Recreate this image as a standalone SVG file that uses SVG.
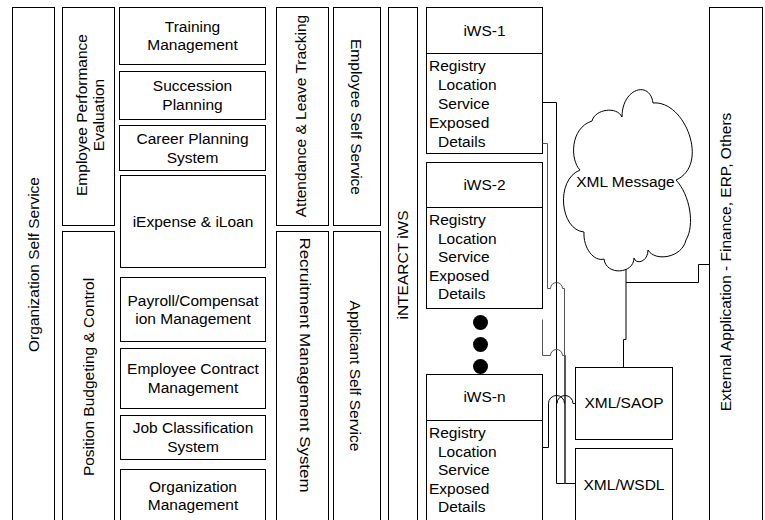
<svg xmlns="http://www.w3.org/2000/svg" width="765" height="520" viewBox="0 0 765 520">
  <style>
    .box{fill:#fff;stroke:#000;stroke-width:1}
    .t{font-family:"Liberation Sans",Arial,sans-serif;font-size:15.5px;fill:#000}
    .c{text-anchor:middle}
    .wire{fill:none;stroke:#000;stroke-width:1}
    .wire-g{fill:none;stroke:#555;stroke-width:1}
    .dot{fill:#000}
  </style>
  <rect width="765" height="520" fill="#fff"/>

  <!-- left column: self service portals -->
  <g id="org-self-service">
    <rect class="box" x="12.5" y="7.5" width="42" height="520"/>
    <text class="t c" transform="translate(38.5,264.5) rotate(-90)">Organization Self Service</text>
  </g>
  <g id="employee-performance">
    <rect class="box" x="62.5" y="7.5" width="52" height="218"/>
    <text class="t c" transform="translate(86.5,115) rotate(-90)">Employee Performance</text>
    <text class="t c" transform="translate(103.5,115) rotate(-90)">Evaluation</text>
  </g>
  <g id="position-budgeting">
    <rect class="box" x="62.5" y="231.5" width="52" height="300"/>
    <text class="t c" transform="translate(93.5,377) rotate(-90)">Position Budgeting &amp; Control</text>
  </g>

  <!-- HR modules -->
  <g id="training">
    <rect class="box" x="119.5" y="7.5" width="146" height="57"/>
    <text class="t c" x="192.5" y="32">Training</text>
    <text class="t c" x="192.5" y="50">Management</text>
  </g>
  <g id="succession">
    <rect class="box" x="119.5" y="71.5" width="146" height="48"/>
    <text class="t c" x="192.5" y="91">Succession</text>
    <text class="t c" x="192.5" y="110">Planning</text>
  </g>
  <g id="career">
    <rect class="box" x="119.5" y="125.5" width="146" height="45"/>
    <text class="t c" x="192.5" y="144">Career Planning</text>
    <text class="t c" x="192.5" y="163">System</text>
  </g>
  <g id="iexpense">
    <rect class="box" x="120.5" y="175.5" width="145" height="92"/>
    <text class="t c" x="193" y="227">iExpense &amp; iLoan</text>
  </g>
  <g id="payroll">
    <rect class="box" x="120.5" y="277.5" width="145" height="64"/>
    <text class="t c" x="193" y="306">Payroll/Compensat</text>
    <text class="t c" x="193" y="324">ion Management</text>
  </g>
  <g id="contract">
    <rect class="box" x="120.5" y="348.5" width="145" height="60"/>
    <text class="t c" x="193" y="374">Employee Contract</text>
    <text class="t c" x="193" y="393">Management</text>
  </g>
  <g id="job-classification">
    <rect class="box" x="120.5" y="415.5" width="145" height="44"/>
    <text class="t c" x="193" y="433">Job Classification</text>
    <text class="t c" x="193" y="452">System</text>
  </g>
  <g id="org-management">
    <rect class="box" x="120.5" y="469.5" width="145" height="60"/>
    <text class="t c" x="193" y="492">Organization</text>
    <text class="t c" x="193" y="510">Management</text>
  </g>

  <g id="attendance">
    <rect class="box" x="276.5" y="7.5" width="52" height="218"/>
    <text class="t c" transform="translate(306,116) rotate(-90)">Attendance &amp; Leave Tracking</text>
  </g>
  <g id="recruitment">
    <rect class="box" x="276.5" y="231.5" width="52" height="300"/>
    <text class="t c" transform="translate(300,365) rotate(90)" textLength="255" lengthAdjust="spacingAndGlyphs">Recruitment Management System</text>
  </g>
  <g id="employee-self-service">
    <rect class="box" x="333.5" y="7.5" width="47" height="218"/>
    <text class="t c" transform="translate(350.5,117) rotate(90)">Employee Self Service</text>
  </g>
  <g id="applicant-self-service">
    <rect class="box" x="333.5" y="231.5" width="47" height="300"/>
    <text class="t c" transform="translate(350,376) rotate(90)">Applicant Self Service</text>
  </g>

  <g id="intearct-iws">
    <rect class="box" x="388.5" y="7.5" width="29" height="520"/>
    <text class="t c" transform="translate(408,265) rotate(-90)">iNTEARCT iWS</text>
  </g>

  <!-- web service instances -->
  <g id="iws-1">
    <rect class="box" x="426.5" y="7.5" width="116" height="46"/>
    <rect class="box" x="426.5" y="53.5" width="116" height="100"/>
    <text class="t c" x="484.5" y="36">iWS-1</text>
    <text class="t" x="429" y="71">Registry</text>
    <text class="t" x="438" y="90">Location</text>
    <text class="t" x="438" y="109">Service</text>
    <text class="t" x="429" y="128">Exposed</text>
    <text class="t" x="438" y="147">Details</text>
  </g>
  <g id="iws-2">
    <rect class="box" x="426.5" y="162.5" width="116" height="45"/>
    <rect class="box" x="426.5" y="207.5" width="116" height="101"/>
    <text class="t c" x="484.5" y="190">iWS-2</text>
    <text class="t" x="429" y="225">Registry</text>
    <text class="t" x="438" y="244">Location</text>
    <text class="t" x="438" y="262">Service</text>
    <text class="t" x="429" y="281">Exposed</text>
    <text class="t" x="438" y="299">Details</text>
  </g>
  <g id="iws-more">
    <circle class="dot" cx="480.5" cy="322.5" r="7.5"/>
    <circle class="dot" cx="480.5" cy="344.5" r="7.5"/>
    <circle class="dot" cx="480.5" cy="366.5" r="7.5"/>
  </g>
  <g id="iws-n">
    <rect class="box" x="426.5" y="374.5" width="116" height="46"/>
    <rect class="box" x="426.5" y="420.5" width="116" height="110"/>
    <text class="t c" x="484.5" y="402">iWS-n</text>
    <text class="t" x="429" y="438">Registry</text>
    <text class="t" x="438" y="457">Location</text>
    <text class="t" x="438" y="475">Service</text>
    <text class="t" x="429" y="494">Exposed</text>
    <text class="t" x="438" y="512">Details</text>
  </g>

  <!-- connectors, with jump-over hops where lines cross -->
  <g id="connectors">
    <path class="wire" d="M542.5,102.5 H556.5 V483.5 H575.5"/>
    <path class="wire-g" d="M542.5,143.5 H547.5 V288.5 H550.5 A6,6 0 0 1 562.5,288.5 H564.5 V483.5"/>
    <path class="wire-g" d="M542.5,319.5 V355.5 H550.5 A6,6 0 0 1 562.5,355.5 H565.5 V483.5"/>
    <path class="wire" d="M542.5,447.5 H548.5 V403.5 A8,8 0 0 1 564.5,403.5 M557,403.5 A8,8 0 0 1 573,403.5 H575.5"/>
    <path class="wire" d="M626,268 V339.5 H623.5 V367.5"/>
    <path class="wire" d="M626,282.5 H698.5 V264.5 H709.5"/>
  </g>

  <g id="xml-message">
    <path class="box" d="M580,170 C570,160 570,128 592,121 C595,109 617,106 622,117 C622,88 650,80 653,103 C685,100 710,165 676,180 C690,195 695,225 686,240 C682,258 655,262 648,250 C648,262 636,265 634,258 C634,274 606,276 604,259 C594,262 583,248 584,232 C560,230 555,180 580,170 Z"/>
    <text class="t c" x="625.5" y="187">XML Message</text>
  </g>

  <g id="xml-saop">
    <rect class="box" x="575.5" y="367.5" width="97" height="72"/>
    <text class="t c" x="624" y="408">XML/SAOP</text>
  </g>
  <g id="xml-wsdl">
    <rect class="box" x="575.5" y="448.5" width="97" height="80"/>
    <text class="t c" x="624" y="490">XML/WSDL</text>
  </g>

  <g id="external-application">
    <rect class="box" x="709.5" y="7.5" width="53" height="520"/>
    <text class="t c" transform="translate(731,262) rotate(-90)">External Application - Finance, ERP, Others</text>
  </g>
</svg>
